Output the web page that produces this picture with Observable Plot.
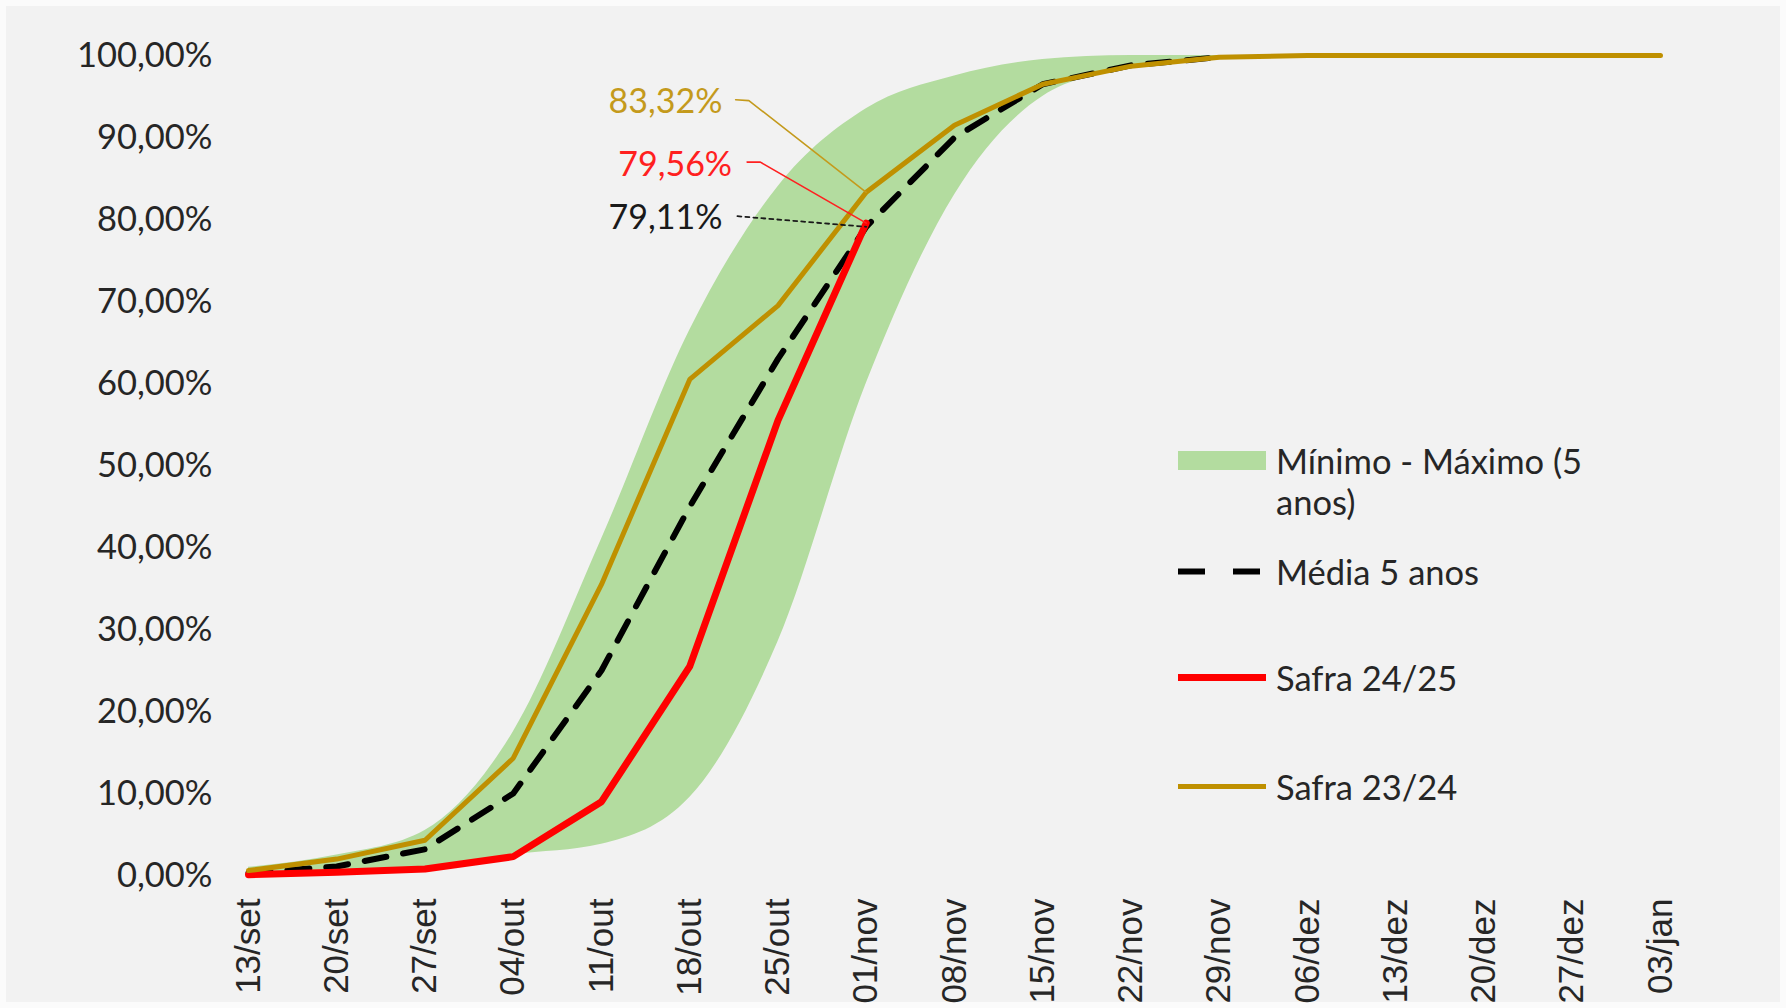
<!DOCTYPE html>
<html>
<head>
<meta charset="utf-8">
<script src="https://cdn.jsdelivr.net/npm/d3@7"></script>
<script src="https://cdn.jsdelivr.net/npm/@observablehq/plot@0.6"></script>
<style>
  html, body { margin: 0; padding: 0; background: #ffffff; }
  #wrap { position: relative; width: 1786px; height: 1008px; background: #f2f2f2; overflow: hidden; box-shadow: inset 0 0 0 6px #fbfbfb; }
  #chart { position: absolute; left: 0; top: 0; }
  #legend { position: absolute; left: 1176px; top: 0; font-family: Lato, sans-serif; font-size: 34.5px; color: #262626; }
  .item { position: absolute; left: 0; display: flex; align-items: flex-start; white-space: nowrap; }
  .item svg { flex: none; margin-right: 8px; }
  .item span { line-height: 41px; white-space: normal; width: 330px; }
</style>
</head>
<body>
<div id="wrap">
  <div id="chart"></div>
  <div id="legend"></div>
</div>
<script>
// ---- data ----
const weeks = ["13/set","20/set","27/set","04/out","11/out","18/out","25/out","01/nov","08/nov","15/nov","22/nov","29/nov","06/dez","13/dez","20/dez","27/dez","03/jan"];
const minimo5 = [0, 0.2, 0.8, 2.5, 3.8, 9.5, 28.5, 60, 83, 95, 98.5, 99.8, 100, 100, 100, 100, 100];
const maximo5 = [1, 2.5, 5.5, 17.5, 41, 66.5, 84, 93.5, 97.5, 99.5, 100, 100, 100, 100, 100, 100, 100];
const media5 = [0.3, 1.1, 3.2, 10, 25, 45, 63, 79.11, 90, 96.5, 98.8, 99.8];
const safra2425 = [0.1, 0.4, 0.8, 2.3, 9, 25.5, 55.5, 79.56];
const safra2324 = [0.6, 2, 4.3, 14.3, 35.5, 60.5, 69.5, 83.32, 91.5, 96.5, 98.7, 99.8, 100, 100, 100, 100, 100];
const yTicks = [0, 10, 20, 30, 40, 50, 60, 70, 80, 90, 100];
const legendLabels = ["Mínimo - Máximo (5 anos)", "Média 5 anos", "Safra 24/25", "Safra 23/24"];
const annotLabels = ["83,32%", "79,56%", "79,11%"];
const annotValues = [83.32, 79.56, 79.11];

// ---- styles / layout ----
const cGreen = "#b3dc9f", cGold = "#bf9000", cRed = "#ff0000", cBlack = "#000000";
const lastIdx = 7; // 01/nov
// label anchors (x in week-index units, y in %)
const annotLayout = [
  {tx: 5.37, ty: 94.3, color: "#c49a1c", path: [[5.52, 94.6], [5.67, 94.5]], dash: null},
  {tx: 5.48, ty: 86.6, color: "#ff2020", path: [[5.65, 87.0], [5.80, 87.0]], dash: null},
  {tx: 5.37, ty: 80.2, color: "#1a1a1a", path: [[5.54, 80.4]], dash: "4,4"}
];

const rows = arr => arr.map((v, i) => ({i, v}));
const band = weeks.map((w, i) => ({i, lo: minimo5[i], hi: maximo5[i]}));

const annotText = annotLabels.map((t, k) => ({t, x: annotLayout[k].tx, y: annotLayout[k].ty, color: annotLayout[k].color}));
const leaderMarks = annotLabels.map((t, k) => {
  const pts = annotLayout[k].path.map(([x, y]) => ({x, y})).concat([{x: lastIdx, y: annotValues[k]}]);
  return Plot.line(pts, {x: "x", y: "y", stroke: annotLayout[k].color, strokeWidth: annotLayout[k].dash ? 1.8 : 1.6, strokeDasharray: annotLayout[k].dash || null});
});

const chart = Plot.plot({
  width: 1786, height: 1008,
  marginLeft: 248, marginRight: 126, marginTop: 55, marginBottom: 133,
  style: {background: "transparent", fontFamily: "Lato, sans-serif", fontSize: "34px", color: "#262626", overflow: "visible"},
  x: {type: "linear", domain: [0, weeks.length - 1]},
  y: {domain: [0, 100]},
  marks: [
    Plot.areaY(band, {x: "i", y1: "lo", y2: "hi", fill: cGreen, curve: "monotone-x"}),
    Plot.lineY(rows(media5), {x: "i", y: "v", stroke: cBlack, strokeWidth: 6, strokeDasharray: "22,17"}),
    Plot.lineY(rows(safra2425), {x: "i", y: "v", stroke: cRed, strokeWidth: 7, strokeLinejoin: "round"}),
    Plot.lineY(rows(safra2324), {x: "i", y: "v", stroke: cGold, strokeWidth: 5, strokeLinejoin: "round"}),
    ...leaderMarks,
    Plot.text(annotText, {x: "x", y: "y", text: "t", fill: "color", textAnchor: "end", fontSize: 34, fontFamily: "Lato, sans-serif"}),
    Plot.axisY({ticks: yTicks, tickFormat: d => d.toFixed(2).replace(".", ",") + "%", tickSize: 0, tickPadding: 36, fontSize: 34.5, fontFamily: "Lato, sans-serif", label: null, fill: "#262626"}),
    Plot.axisX({ticks: d3.range(weeks.length), tickFormat: i => weeks[i], tickRotate: -90, tickSize: 0, tickPadding: 23, fontSize: 35, fontFamily: "Liberation Sans, Arial, sans-serif", label: null, fill: "#262626"})
  ]
});
document.getElementById("chart").appendChild(chart);

// ---- legend (HTML) ----
const legendTops = [440, 551, 657, 766];
const swatches = [
  `<rect x="2" y="11" width="88" height="19" fill="${cGreen}"/>`,
  `<line x1="2" y1="20.5" x2="90" y2="20.5" stroke="${cBlack}" stroke-width="6" stroke-dasharray="27,28"/>`,
  `<line x1="2" y1="20.5" x2="90" y2="20.5" stroke="${cRed}" stroke-width="7"/>`,
  `<line x1="2" y1="20.5" x2="90" y2="20.5" stroke="${cGold}" stroke-width="5"/>`
];
const legend = document.getElementById("legend");
legendLabels.forEach((lab, k) => {
  const d = document.createElement("div");
  d.className = "item";
  d.style.top = legendTops[k] + "px";
  d.innerHTML = `<svg width="92" height="41">${swatches[k]}</svg><span>${lab}</span>`;
  legend.appendChild(d);
});
</script>
</body>
</html>
